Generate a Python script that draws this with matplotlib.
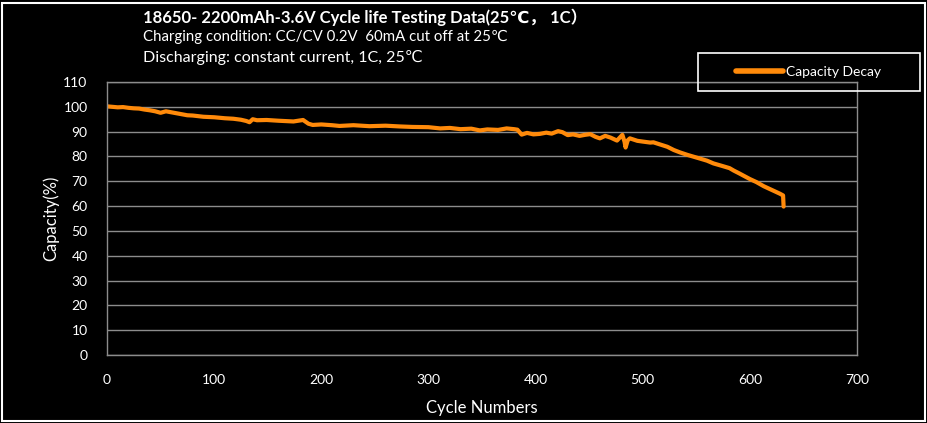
import matplotlib
matplotlib.use('Agg')
import matplotlib.pyplot as plt
import matplotlib.patches as mpatches

# Data
# ----------------------------------------------

cycles = [0, 5, 10, 15, 20, 25, 30, 35, 40, 45, 50, 55, 60, 65, 70, 75, 80,
          90, 100, 110, 118, 125, 130, 133, 136, 140, 149, 160, 174, 183, 188,
          192, 200, 210, 217, 230, 245, 260, 273, 285, 300, 311, 320, 330,
          340, 348, 355, 365, 373, 380, 383, 387, 392, 398, 404, 410, 415,
          421, 425, 430, 435, 441, 446, 451, 456, 460, 465, 470, 476, 479,
          481, 483, 484, 486, 488, 495, 500, 507, 510, 515, 523, 529, 535,
          542, 553, 560, 566, 574, 581, 585, 590, 600, 606, 613, 620, 628,
          631, 631.5]
capacity = [100.2, 100.0, 99.8, 99.9, 99.6, 99.4, 99.3, 98.9, 98.6, 98.2,
            97.6, 98.2, 97.8, 97.4, 97.0, 96.6, 96.5, 96.0, 95.8, 95.4, 95.2,
            94.8, 94.3, 93.8, 95.0, 94.6, 94.7, 94.4, 94.1, 94.7, 93.2, 92.7,
            92.9, 92.6, 92.3, 92.6, 92.2, 92.4, 92.1, 91.9, 91.8, 91.3, 91.5,
            91.0, 91.2, 90.5, 90.9, 90.7, 91.3, 91.0, 90.8, 88.8, 89.5, 88.9,
            89.1, 89.6, 89.2, 90.2, 89.8, 88.6, 88.9, 88.3, 88.7, 89.0, 87.9,
            87.3, 88.3, 87.6, 86.4, 87.8, 88.7, 86.0, 83.6, 86.5, 87.3, 86.3,
            86.0, 85.6, 85.7, 85.0, 83.9, 82.6, 81.6, 80.6, 79.2, 78.3, 77.2,
            76.2, 75.3, 74.3, 73.2, 70.9, 69.7, 68.0, 66.6, 65.0, 64.3, 59.8]

title_lines = ['18650- 2200mAh-3.6V Cycle life Testing Data(25\u2103\uff0c 1C\uff09',
               'Charging condition: CC/CV 0.2V  60mA cut off at 25\u2103',
               'Discharging: constant current, 1C, 25\u2103']

fonts = ['Lato', 'DejaVu Sans', 'Noto Sans CJK SC']
plt.rcParams['font.family'] = fonts

# Figure
# ----------------------------------------------

fig = plt.figure(figsize=(9.28, 4.23), dpi=100, facecolor='black')
ax = fig.add_axes([0.1153, 0.1608, 0.8082, 0.6453], facecolor='black')

ax.plot(cycles, capacity, color='#ff8a0a', lw=3.0, solid_joinstyle='round',
        solid_capstyle='round', label='Capacity Decay')

ax.set_xlim(0, 700)
ax.set_ylim(0, 110)
ax.set_xticks(range(0, 701, 100))
ax.set_yticks(range(0, 111, 10))
ax.yaxis.grid(True, color='#8c8c8c', lw=1)
ax.set_axisbelow(True)
for sp in ax.spines.values():
    sp.set_color('#8c8c8c')
    sp.set_linewidth(1)
ax.tick_params(length=0, colors='white', labelsize=10)
ax.tick_params(axis='x', pad=14)
ax.tick_params(axis='y', pad=14)

ax.set_xlabel('Cycle Numbers', color='white', fontsize=12, labelpad=10)
ax.set_ylabel('Capacity(%)', color='white', fontsize=12, labelpad=3)

# legend, centred inside its own frame
leg_box = (0.752, 0.785, 0.239, 0.0898)
leg = ax.legend(loc='center', bbox_to_anchor=leg_box,
                bbox_transform=fig.transFigure, frameon=False,
                fontsize=10, handlelength=3.4, handletextpad=0.2,
                borderaxespad=0)
for t in leg.get_texts():
    t.set_color('white')
for line in leg.get_lines():
    line.set_linewidth(4)
fig.patches.append(mpatches.Rectangle(leg_box[:2], leg_box[2], leg_box[3],
                                      transform=fig.transFigure, fill=False,
                                      ec='white', lw=1.2))

fig.text(0.154, 0.960, title_lines[0], color='white', fontsize=12,
         fontweight='bold', va='center', ha='left')
fig.text(0.154, 0.912, title_lines[1], color='white', fontsize=10.8,
         va='center', ha='left')
fig.text(0.154, 0.863, title_lines[2], color='white', fontsize=11.5,
         va='center', ha='left')

# outer frame
fig.patches.append(mpatches.Rectangle((0.002, 0.005), 0.995, 0.988,
                                      transform=fig.transFigure, fill=False,
                                      ec='white', lw=1.5))

fig.savefig('out.png', dpi=100, facecolor='black')
